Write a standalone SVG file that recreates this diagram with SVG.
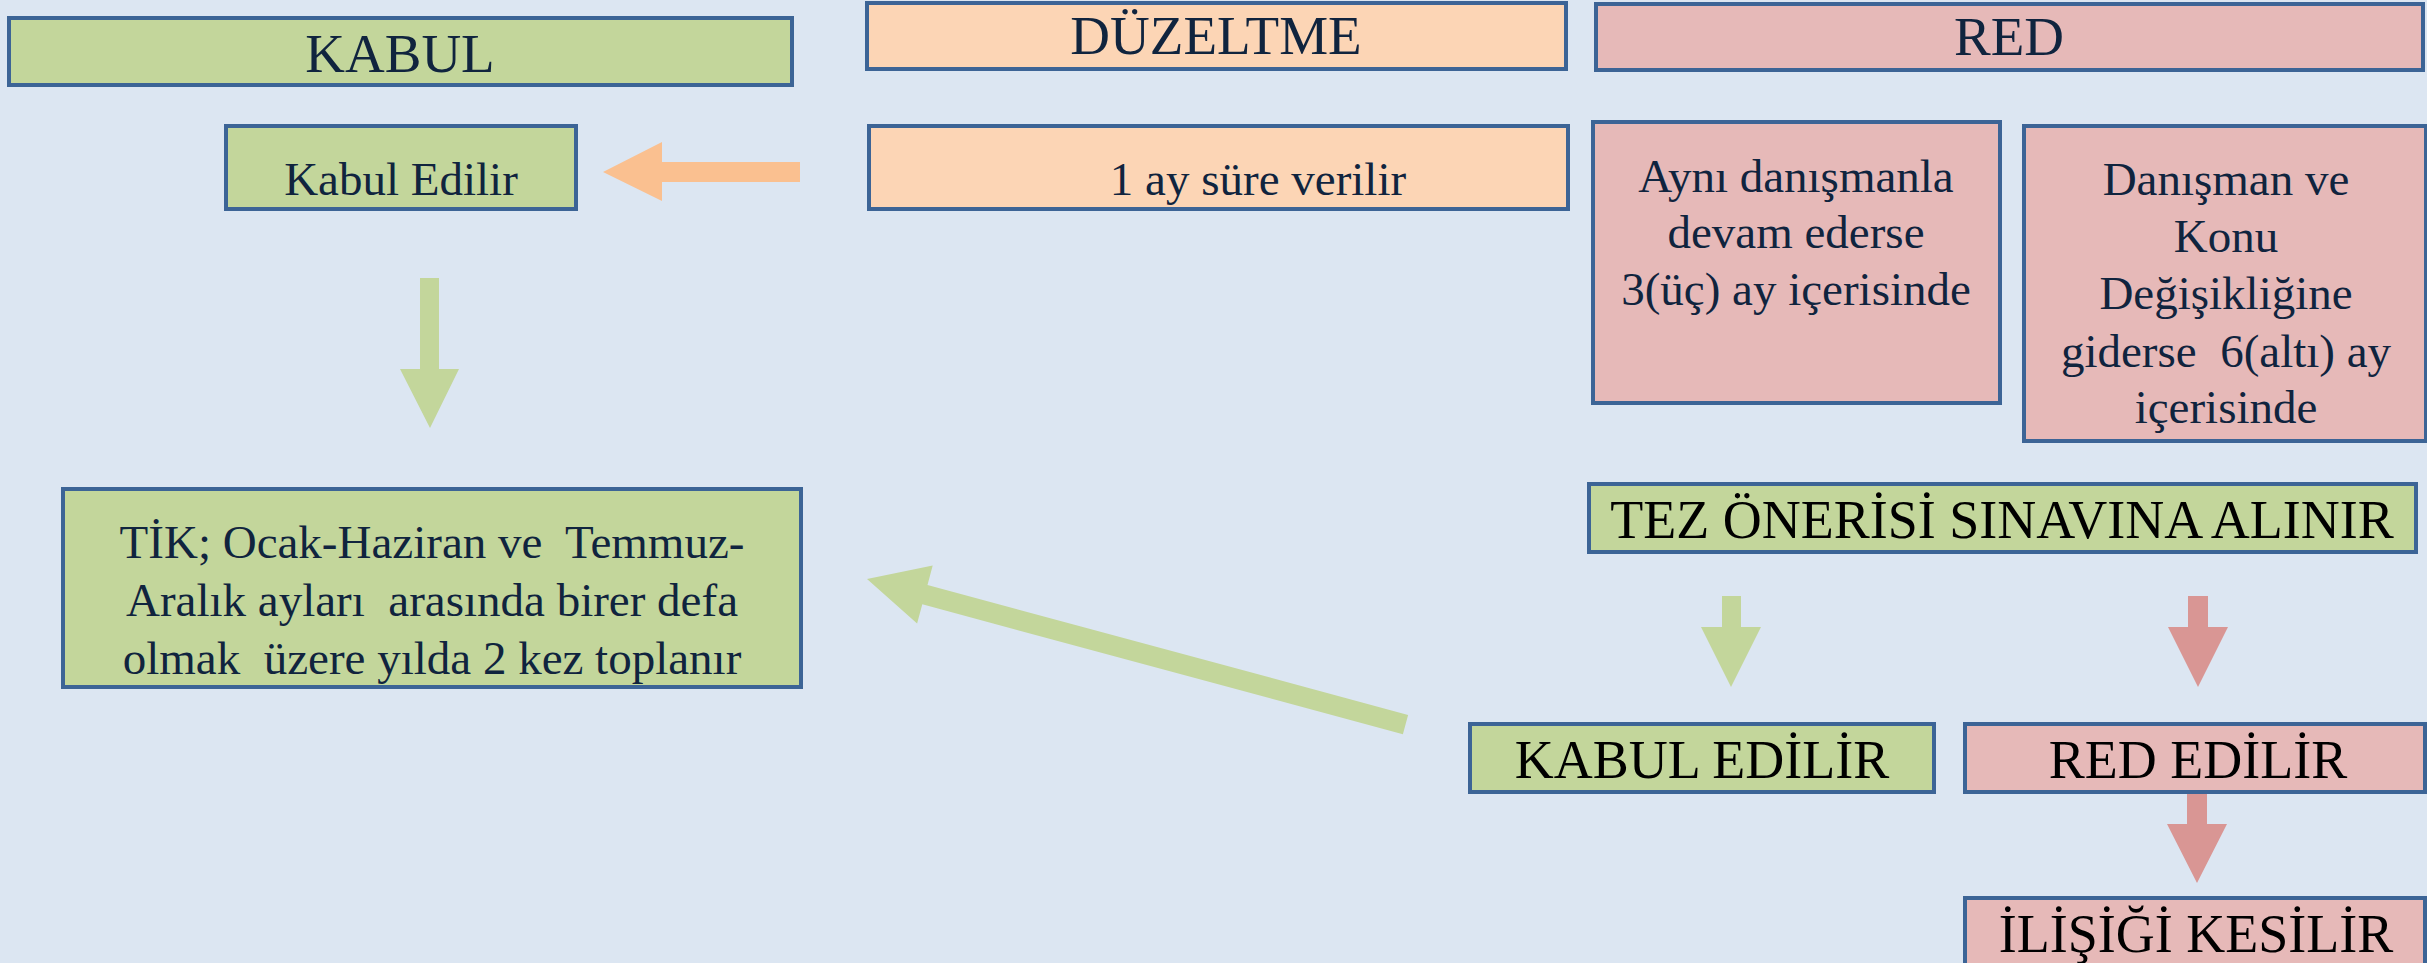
<svg xmlns="http://www.w3.org/2000/svg" width="2427" height="963" viewBox="0 0 2427 963">
<style>
.box{stroke:#3c6496;stroke-width:4}
.g{fill:#c3d69b}
.o{fill:#fcd5b5}
.p{fill:#e6b9b8}
text{font-family:"Liberation Serif","Times New Roman",serif;text-anchor:middle}
.h{font-size:55px;fill:#10243e}
.b{font-size:47px;fill:#10243e}
.k{font-size:54px;fill:#000}
.ag{fill:#c3d69b}
.ao{fill:#fac090}
.ar{fill:#d99694}
</style>
<rect x="0" y="0" width="2427" height="963" fill="#dce6f2"/>
<g id="connectors">
<polygon class="ao" points="603,172 662,142 662,162 800,162 800,182 662,182 662,201"/>
<polygon class="ag" points="420,278 439,278 439,369 459,369 430,428 400,369 420,369"/>
<polygon class="ag" points="867,579 932.7,565.6 927.5,585 1408.1,714.9 1402.9,734.2 922.3,604.3 917.1,623.6"/>
<polygon class="ag" points="1722,596 1741,596 1741,627 1761,627 1731,687 1701,627 1722,627"/>
<polygon class="ar" points="2188,596 2208,596 2208,627 2228,627 2198,687 2168,627 2188,627"/>
<polygon class="ar" points="2187,793 2207,793 2207,824 2227,824 2197,883 2167,824 2187,824"/>
</g>
<g id="kabul-header">
<rect class="box g" x="9" y="18" width="783" height="67"/>
<text class="h" x="400" y="72">KABUL</text>
</g>
<g id="duzeltme-header">
<rect class="box o" x="867" y="3" width="699" height="66"/>
<text class="h" x="1216" y="54">DÜZELTME</text>
</g>
<g id="red-header">
<rect class="box p" x="1596" y="4" width="827" height="66"/>
<text class="h" x="2009" y="55">RED</text>
</g>
<g id="kabul-edilir">
<rect class="box g" x="226" y="126" width="350" height="83"/>
<text class="b" x="401" y="195">Kabul Edilir</text>
</g>
<g id="bir-ay">
<rect class="box o" x="869" y="126" width="699" height="83"/>
<text class="b" x="1258" y="195">1 ay süre verilir</text>
</g>
<g id="ayni-danisman">
<rect class="box p" x="1593" y="122" width="407" height="281"/>
<text class="b" x="1796" y="192">Aynı danışmanla</text>
<text class="b" x="1796" y="248">devam ederse</text>
<text class="b" x="1796" y="305">3(üç) ay içerisinde</text>
</g>
<g id="danisman-konu">
<rect class="box p" x="2024" y="126" width="402" height="315"/>
<text class="b" x="2226" y="195">Danışman ve</text>
<text class="b" x="2226" y="252">Konu</text>
<text class="b" x="2226" y="309">Değişikliğine</text>
<text class="b" x="2226" y="367" xml:space="preserve">giderse  6(altı) ay</text>
<text class="b" x="2226" y="423">içerisinde</text>
</g>
<g id="tik">
<rect class="box g" x="63" y="489" width="738" height="198"/>
<text class="b" x="432" y="558" xml:space="preserve">TİK; Ocak-Haziran ve  Temmuz-</text>
<text class="b" x="432" y="616" xml:space="preserve">Aralık ayları  arasında birer defa</text>
<text class="b" x="432" y="674" xml:space="preserve">olmak  üzere yılda 2 kez toplanır</text>
</g>
<g id="tez-onerisi">
<rect class="box g" x="1589" y="484" width="827" height="68"/>
<text class="k" x="2002" y="538">TEZ ÖNERİSİ SINAVINA ALINIR</text>
</g>
<g id="kabul-edilir-2">
<rect class="box g" x="1470" y="724" width="464" height="68"/>
<text class="k" x="1702" y="778">KABUL EDİLİR</text>
</g>
<g id="red-edilir">
<rect class="box p" x="1965" y="724" width="460" height="68"/>
<text class="k" x="2198" y="778">RED EDİLİR</text>
</g>
<g id="ilisigi-kesilir">
<rect class="box p" x="1965" y="898" width="460" height="80"/>
<text class="k" x="2196" y="952">İLİŞİĞİ KESİLİR</text>
</g>
</svg>
